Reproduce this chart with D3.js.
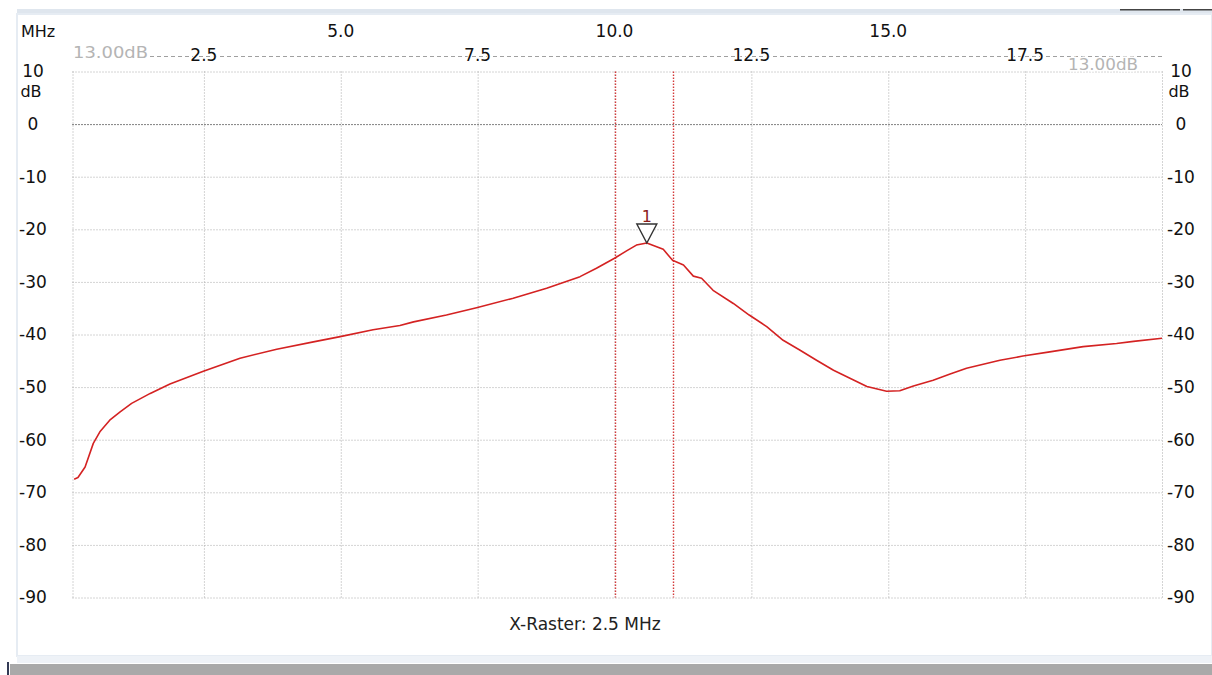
<!DOCTYPE html>
<html>
<head>
<meta charset="utf-8">
<script src="https://cdn.jsdelivr.net/npm/d3@7"></script>
<style>
  html, body { margin: 0; padding: 0; background: #ffffff; }
  svg { display: block; }
  text { font-family: "DejaVu Sans", Verdana, sans-serif; }
</style>
</head>
<body>
<svg id="chart" width="1212" height="675"></svg>
<script>
// ---- data ----
const freqMHz = [0.13, 0.2, 0.33, 0.48, 0.6, 0.78, 0.97, 1.18, 1.52, 1.88, 2.49, 3.16, 3.83, 4.5, 4.99, 5.59,
  6.08, 6.33, 6.93, 7.48, 8.15, 8.76, 9.37, 9.67, 10.0, 10.22, 10.4, 10.59, 10.77, 10.89, 11.06, 11.26,
  11.44, 11.59, 11.8, 12.17, 12.46, 12.78, 13.08, 13.39, 13.69, 14.0, 14.3, 14.61, 14.97, 15.21, 15.46,
  15.82, 16.13, 16.43, 17.04, 17.46, 17.95, 18.56, 19.17, 19.48, 20.0];
const gainDB = [-67.5, -67.2, -65.2, -60.7, -58.5, -56.3, -54.7, -53.1, -51.2, -49.4, -47.0, -44.5, -42.8, -41.4, -40.4, -39.1,
  -38.3, -37.6, -36.3, -34.9, -33.1, -31.2, -29.0, -27.4, -25.5, -24.1, -23.0, -22.6, -23.3, -23.8, -25.9, -26.8,
  -28.9, -29.3, -31.6, -34.1, -36.3, -38.5, -41.1, -43.0, -44.9, -46.8, -48.3, -49.9, -50.8, -50.7, -49.8,
  -48.7, -47.5, -46.4, -44.9, -44.1, -43.3, -42.3, -41.7, -41.3, -40.7];
const xTicksRow1 = [5.0, 10.0, 15.0];
const xTicksRow2 = [2.5, 7.5, 12.5, 17.5];
const xGridTicks = [0.1, 2.5, 5.0, 7.5, 10.0, 12.5, 15.0, 17.5, 20.0];
const yTicks = [10, 0, -10, -20, -30, -40, -50, -60, -70, -80, -90];
const cursorsMHz = [10.0, 11.06];
const markerMHz = [10.59];
const markerDB = [-22.6];
const markerLabels = ["1"];
const refLevelDB = [13];
const refLabel = "13.00dB";
const xUnit = "MHz";
const yUnit = "dB";
const rasterText = "X-Raster: 2.5 MHz";

// ---- layout ----
const svg = d3.select("#chart");
const x = d3.scaleLinear().domain([0.1, 20]).range([72.5, 1162]);
const y = d3.scaleLinear().domain([-90, 10]).range([597.5, 71.5]);

// window chrome
svg.append("rect").attr("x", 17).attr("y", 9).attr("width", 1195).attr("height", 5).attr("fill", "#dfe6ee");
svg.append("rect").attr("x", 17).attr("y", 14).attr("width", 1195).attr("height", 642)
  .attr("fill", "#ffffff").attr("stroke", "#e6ecf3").attr("stroke-width", 2);
svg.append("rect").attr("x", 17).attr("y", 656).attr("width", 1195).attr("height", 7).attr("fill", "#eef2f7");
svg.append("rect").attr("x", 10).attr("y", 664).attr("width", 1202).attr("height", 11).attr("fill", "#a9a9a9");
svg.append("rect").attr("x", 7).attr("y", 662).attr("width", 2).attr("height", 13).attr("fill", "#333a55");
svg.append("rect").attr("x", 1120).attr("y", 9).attr("width", 60).attr("height", 1.5).attr("fill", "#444");
svg.append("rect").attr("x", 1183).attr("y", 9).attr("width", 29).attr("height", 1.5).attr("fill", "#444");

// vertical grid
const gx = svg.append("g").attr("transform", `translate(0,${y(-90)})`)
  .call(d3.axisBottom(x).tickValues(xGridTicks).tickSize(-(y(-90) - y(10))).tickFormat(""));
gx.select(".domain").remove();
gx.selectAll("line").attr("stroke", "#a8a8a8").attr("stroke-dasharray", "1,2");

// horizontal grid
const gy = svg.append("g").attr("transform", `translate(${x(0.1)},0)`)
  .call(d3.axisLeft(y).tickValues(yTicks).tickSize(-(x(20) - x(0.1))).tickFormat(""));
gy.select(".domain").remove();
gy.selectAll("line")
  .attr("stroke", d => d === 0 ? "#000000" : "#a8a8a8")
  .attr("stroke-dasharray", "1,2");

// reference level dashed line
svg.append("line")
  .attr("x1", 150).attr("x2", x(20))
  .attr("y1", Math.round(y(refLevelDB[0])) + 0.5).attr("y2", Math.round(y(refLevelDB[0])) + 0.5)
  .attr("stroke", "#a0a0a0").attr("stroke-dasharray", "4,3");
svg.append("text").attr("x", 73).attr("y", y(refLevelDB[0]) - 3).attr("dy", "0.35em")
  .attr("font-size", 16).attr("textLength", 75).attr("lengthAdjust", "spacingAndGlyphs")
  .attr("fill", "#b4b4b4").text(refLabel);
svg.append("text").attr("x", 1068).attr("y", y(refLevelDB[0]) + 9).attr("dy", "0.35em")
  .attr("font-size", 16).attr("textLength", 70).attr("lengthAdjust", "spacingAndGlyphs")
  .attr("fill", "#b4b4b4")
  .attr("stroke", "#fff").attr("stroke-width", 3).attr("paint-order", "stroke").text(refLabel);

// top axis labels
svg.append("text").attr("x", 38).attr("y", 31).attr("dy", "0.35em").attr("text-anchor", "middle")
  .attr("font-size", 16).attr("fill", "#111").text(xUnit);
svg.selectAll(".xt1").data(xTicksRow1).enter().append("text")
  .attr("x", d => x(d)).attr("y", 31).attr("dy", "0.35em").attr("text-anchor", "middle")
  .attr("font-size", 17).attr("fill", "#111").text(d3.format(".1f"));
svg.selectAll(".xt2").data(xTicksRow2).enter().append("text")
  .attr("x", d => x(d)).attr("y", 55).attr("dy", "0.35em").attr("text-anchor", "middle")
  .attr("font-size", 17).attr("fill", "#111")
  .attr("stroke", "#fff").attr("stroke-width", 2).attr("paint-order", "stroke").text(d3.format(".1f"));

// y labels both sides
[33, 1181].forEach(cx => {
  svg.selectAll(null).data(yTicks).enter().append("text")
    .attr("x", cx).attr("y", d => y(d)).attr("dy", "0.35em").attr("text-anchor", "middle")
    .attr("font-size", 17).attr("fill", "#111").text(d => d);
  svg.append("text").attr("x", cx - 2).attr("y", y(10) + 20).attr("dy", "0.35em").attr("text-anchor", "middle")
    .attr("font-size", 16).attr("fill", "#111").text(yUnit);
});

// cursor lines
svg.selectAll(".cur").data(cursorsMHz).enter().append("line")
  .attr("x1", d => Math.round(x(d)) + 0.5).attr("x2", d => Math.round(x(d)) + 0.5)
  .attr("y1", y(10)).attr("y2", y(-90))
  .attr("stroke", "#d43a3a").attr("stroke-width", 1.4).attr("stroke-dasharray", "1.5,1.5");

// trace
const line = d3.line().x((d, i) => x(freqMHz[i])).y(d => y(d));
svg.append("path").datum(gainDB).attr("d", line)
  .attr("fill", "none").attr("stroke", "#d42222").attr("stroke-width", 1.6)
  .attr("stroke-linejoin", "round");

// marker
markerMHz.forEach((m, i) => {
  const mx = x(m), my = y(markerDB[i]);
  svg.append("path")
    .attr("d", `M${mx - 10},${my - 19} L${mx + 10},${my - 19} L${mx},${my} Z`)
    .attr("fill", "#ffffff").attr("stroke", "#333").attr("stroke-width", 1.4);
  svg.append("text").attr("x", mx).attr("y", my - 27).attr("dy", "0.35em").attr("text-anchor", "middle")
    .attr("font-size", 16).attr("font-family", "'Liberation Serif', serif")
    .attr("fill", "#8b1c1c").text(markerLabels[i]);
});

// raster text
svg.append("text").attr("x", 585).attr("y", 624).attr("dy", "0.35em").attr("text-anchor", "middle")
  .attr("font-size", 17).attr("fill", "#222").text(rasterText);
</script>
</body>
</html>
